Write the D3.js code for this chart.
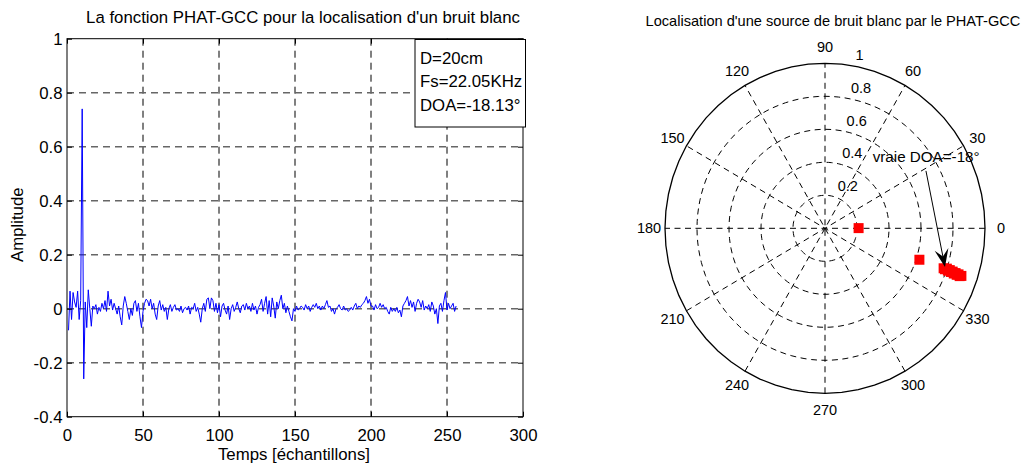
<!DOCTYPE html>
<html><head><meta charset="utf-8">
<script src="https://cdn.jsdelivr.net/npm/d3@7"></script>
<style>
html,body{margin:0;padding:0;background:#fff;}
svg{display:block;font-family:"Liberation Sans",Arial,sans-serif;}
</style></head>
<body>
<svg id="c" width="1021" height="466"></svg>
<script>
// ---------- DATA ----------
const xTicks = [0,50,100,150,200,250,300];
const yTicks = [-0.4,-0.2,0,0.2,0.4,0.6,0.8,1];
const yTickLabels = ["-0.4","-0.2","0","0.2","0.4","0.6","0.8","1"];
const gcc = [
-0.08,0.065,-0.04,0.06,0.025,0.005,0.065,-0.04,0.03,0.74,
-0.26,0.025,-0.07,0.07,0.0,-0.065,0.01,0.0,0.015,-0.02,
0.005,-0.01,0.02,0.0,0.03,-0.01,0.065,0.01,0.035,-0.005,
0.02,0.0,-0.02,0.01,-0.03,-0.06,0.01,0.045,0.02,-0.01,
-0.04,0.0,-0.025,0.02,0.03,-0.01,0.02,-0.03,-0.07,-0.01,
0.02,0.035,0.03,0.01,0.035,0.0,0.02,-0.02,-0.04,0.01,
0.03,-0.005,0.015,-0.01,0.005,-0.04,0.0,0.015,-0.01,0.005,
0.015,-0.005,0.0,-0.01,0.01,-0.015,0.0,0.005,-0.005,0.01,
-0.02,0.005,0.0,0.02,-0.01,0.005,-0.02,-0.05,0.0,0.02,
-0.01,0.035,0.04,0.0,0.04,0.03,-0.01,0.02,-0.015,0.015,
-0.03,0.01,0.02,-0.005,-0.02,0.01,-0.04,0.0,0.015,-0.01,
0.005,0.025,0.0,-0.015,0.01,0.015,-0.005,0.02,0.0,0.01,
-0.01,0.02,-0.005,0.01,-0.02,0.005,0.015,0.035,-0.01,0.02,
0.045,-0.02,0.03,-0.03,0.04,0.01,-0.035,0.025,0.0,0.03,
0.05,0.0,0.02,-0.015,0.01,-0.01,-0.03,-0.045,0.0,-0.01,
0.01,-0.005,0.0,0.01,0.005,-0.005,0.015,0.0,0.01,-0.01,
0.005,0.015,0.005,0.02,0.0,0.01,-0.005,0.01,0.0,0.015,
0.03,0.005,0.01,-0.01,0.0,-0.02,0.0,0.005,0.015,0.0,
-0.005,0.01,-0.005,0.0,-0.01,-0.005,0.005,-0.005,0.01,0.02,
0.0,0.01,0.005,0.015,0.02,0.03,0.045,0.02,0.035,0.01,
0.01,-0.005,0.015,0.0,0.005,0.02,0.005,0.015,0.0,0.005,
-0.01,-0.02,0.005,-0.01,0.0,-0.01,0.005,-0.015,-0.005,-0.03,
0.01,0.02,0.03,0.045,0.01,0.03,0.005,0.025,-0.01,0.02,
0.035,0.025,0.005,0.03,-0.005,0.01,0.0,0.015,-0.01,0.025,
0.01,-0.02,0.0,-0.055,0.01,0.02,-0.01,0.03,0.06,-0.005,
0.02,0.0,0.01,0.02,-0.01,0.01
];
const infoLines = ["D=20cm","Fs=22.05KHz","DOA=-18.13°"];

// polar
const angleTicks = [0,30,60,90,120,150,180,210,240,270,300,330];
const rhoTicks = [0.2,0.4,0.6,0.8,1];
const doaDeg = [0.3,-17.9,-18.1,-18.3,-17.8,-18.5,-18.0,-18.6,-18.2,-18.8,-18.4,-18.9,-18.5,-19.0,-18.7];
const doaRho = [0.21,0.62,0.78,0.79,0.80,0.81,0.82,0.83,0.84,0.85,0.86,0.87,0.88,0.89,0.90];
const arrowFrom = [0.631,0.348];
const arrowTo = [0.75,-0.235];
const arrowText = {label:"vraie DOA=-18°", x:0.298, y:0.404};

// ---------- LEFT PLOT ----------
const svg = d3.select("#c");
const L = {x0:67,x1:523,y0:38.7,y1:416.7};
const x = d3.scaleLinear([0,300],[L.x0,L.x1]);
const y = d3.scaleLinear([-0.4,1],[L.y1,L.y0]);
const g = svg.append("g");
const fs = 16.8;

// grid
g.selectAll(".gv").data(xTicks.slice(1,-1)).join("line")
 .attr("x1",d=>x(d)).attr("x2",d=>x(d)).attr("y1",L.y0).attr("y2",L.y1)
 .attr("stroke","#000").attr("stroke-width",1).attr("stroke-dasharray","7,5");
g.selectAll(".gh").data(yTicks.slice(1,-1)).join("line")
 .attr("x1",L.x0).attr("x2",L.x1).attr("y1",d=>y(d)).attr("y2",d=>y(d))
 .attr("stroke","#666").attr("stroke-width",1.6).attr("stroke-dasharray","7,5");

// signal
const line = d3.line().x((d,i)=>x(i+1)).y(d=>y(d));
g.append("path").datum(gcc).attr("d",line).attr("fill","none")
 .attr("stroke","#0000ff").attr("stroke-width",1);

// box
g.append("rect").attr("x",L.x0).attr("y",L.y0).attr("width",L.x1-L.x0).attr("height",L.y1-L.y0)
 .attr("fill","none").attr("stroke","#000").attr("stroke-width",1);

// axes
const xb = g.append("g").attr("transform",`translate(0,${L.y1})`)
 .call(d3.axisBottom(x).tickValues(xTicks).tickSizeInner(-5).tickSizeOuter(0));
const xt = g.append("g").attr("transform",`translate(0,${L.y0})`)
 .call(d3.axisTop(x).tickValues(xTicks).tickSizeInner(-5).tickSizeOuter(0).tickFormat(""));
const yl = g.append("g").attr("transform",`translate(${L.x0},0)`)
 .call(d3.axisLeft(y).tickValues(yTicks).tickFormat((d,i)=>yTickLabels[i]).tickSizeInner(-5).tickSizeOuter(0).tickPadding(4.5));
const yr = g.append("g").attr("transform",`translate(${L.x1},0)`)
 .call(d3.axisRight(y).tickValues(yTicks).tickSizeInner(-5).tickSizeOuter(0).tickFormat(""));
[xb,xt,yl,yr].forEach(a=>{
  a.select(".domain").remove();
  a.selectAll("line").attr("stroke","#000");
  a.selectAll("text").attr("font-size",fs).attr("fill","#000").attr("font-family","Liberation Sans, Arial, sans-serif");
});
xb.selectAll("text").attr("dy",null).attr("y",24.5);
yl.selectAll("text").attr("dy","0.36em");

g.append("text").attr("x",(L.x0+L.x1)/2+8).attr("y",23).attr("text-anchor","middle")
 .attr("font-size",fs).text("La fonction PHAT-GCC pour la localisation d'un bruit blanc");
g.append("text").attr("x",(L.x0+L.x1)/2-1).attr("y",460).attr("text-anchor","middle")
 .attr("font-size",fs).text("Temps [échantillons]");
g.append("text").attr("transform",`translate(23,${(L.y0+L.y1)/2-3}) rotate(-90)`).attr("text-anchor","middle")
 .attr("font-size",fs).text("Amplitude");

// info box
const ib = g.append("g");
ib.append("rect").attr("x",415).attr("y",39.5).attr("width",110.5).attr("height",87.5)
 .attr("fill","#fff").attr("stroke","#000").attr("stroke-width",1);
ib.selectAll("text").data(infoLines).join("text")
 .attr("x",420).attr("y",(d,i)=>64+i*23.3).attr("font-size",fs).text(d=>d);

// ---------- POLAR PLOT ----------
const C = {cx:825,cy:228.3,rx:160,ry:165};
const px = d3.scaleLinear([-1,1],[C.cx-C.rx,C.cx+C.rx]);
const py = d3.scaleLinear([-1,1],[C.cy+C.ry,C.cy-C.ry]);
const pg = svg.append("g");
const pfs = 14.5;
const circ = (r,n)=>d3.range(n+1).map(k=>{const t=2*Math.PI*k/n;return [r*Math.cos(t),r*Math.sin(t)];});
const pline = d3.line().x(d=>px(d[0])).y(d=>py(d[1]));

pg.append("path").attr("d",pline(circ(1,60))).attr("fill","#fff").attr("stroke","none");
rhoTicks.slice(0,-1).forEach(r=>{
  pg.append("path").attr("d",pline(circ(r,120))).attr("fill","none")
   .attr("stroke","#000").attr("stroke-width",1).attr("stroke-dasharray","6,4.5");
});
// spokes
[30,60,90,120,150,180].forEach(a=>{
  const t=a*Math.PI/180;
  pg.append("line").attr("x1",px(-Math.cos(t))).attr("y1",py(-Math.sin(t)))
   .attr("x2",px(Math.cos(t))).attr("y2",py(Math.sin(t)))
   .attr("stroke","#000").attr("stroke-width",1).attr("stroke-dasharray","6,4.5");
});
pg.append("path").attr("d",pline(circ(1,60))).attr("fill","none").attr("stroke","#000").attr("stroke-width",1.3);

// angle labels
pg.selectAll(".al").data(angleTicks).join("text")
 .attr("x",d=>px(1.1*Math.cos(d*Math.PI/180))).attr("y",d=>py(1.1*Math.sin(d*Math.PI/180)))
 .attr("text-anchor","middle").attr("dominant-baseline","central").attr("font-size",pfs).text(d=>d);
// rho labels
const c82=Math.cos(82*Math.PI/180), s82=Math.sin(82*Math.PI/180);
pg.selectAll(".rl").data(rhoTicks).join("text")
 .attr("x",d=>px((d+0.01)*c82)+8).attr("y",d=>py((d+0.01)*s82)-3)
 .attr("font-size",pfs).text(d=>d);

// markers
const pts = doaDeg.map((a,i)=>[doaRho[i]*Math.cos(a*Math.PI/180),doaRho[i]*Math.sin(a*Math.PI/180)]);
pg.selectAll(".m").data(pts).join("rect")
 .attr("x",d=>px(d[0])-5).attr("y",d=>py(d[1])-5).attr("width",10).attr("height",10)
 .attr("fill","#ff0000");

// arrow annotation
const ax1=px(arrowFrom[0]), ay1=py(arrowFrom[1]), ax2=px(arrowTo[0]), ay2=py(arrowTo[1]);
const dx=ax2-ax1, dy=ay2-ay1, len=Math.hypot(dx,dy), ux=dx/len, uy=dy/len, nx=-uy, ny=ux;
const hl=18, hw=7;
pg.append("line").attr("x1",ax1).attr("y1",ay1).attr("x2",ax2-ux*8).attr("y2",ay2-uy*8)
 .attr("stroke","#000").attr("stroke-width",1);
pg.append("path").attr("d",`M${ax2},${ay2} L${ax2-ux*hl+nx*hw},${ay2-uy*hl+ny*hw} L${ax2-ux*hl*0.6},${ay2-uy*hl*0.6} L${ax2-ux*hl-nx*hw},${ay2-uy*hl-ny*hw} Z`)
 .attr("fill","#000");
pg.append("text").attr("x",px(arrowText.x)).attr("y",py(arrowText.y)).attr("font-size",15.2)
 .text(arrowText.label);

svg.append("text").attr("x",833).attr("y",26).attr("text-anchor","middle").attr("font-size",14.6)
 .text("Localisation d'une source de bruit blanc par le PHAT-GCC");
</script>
</body></html>
